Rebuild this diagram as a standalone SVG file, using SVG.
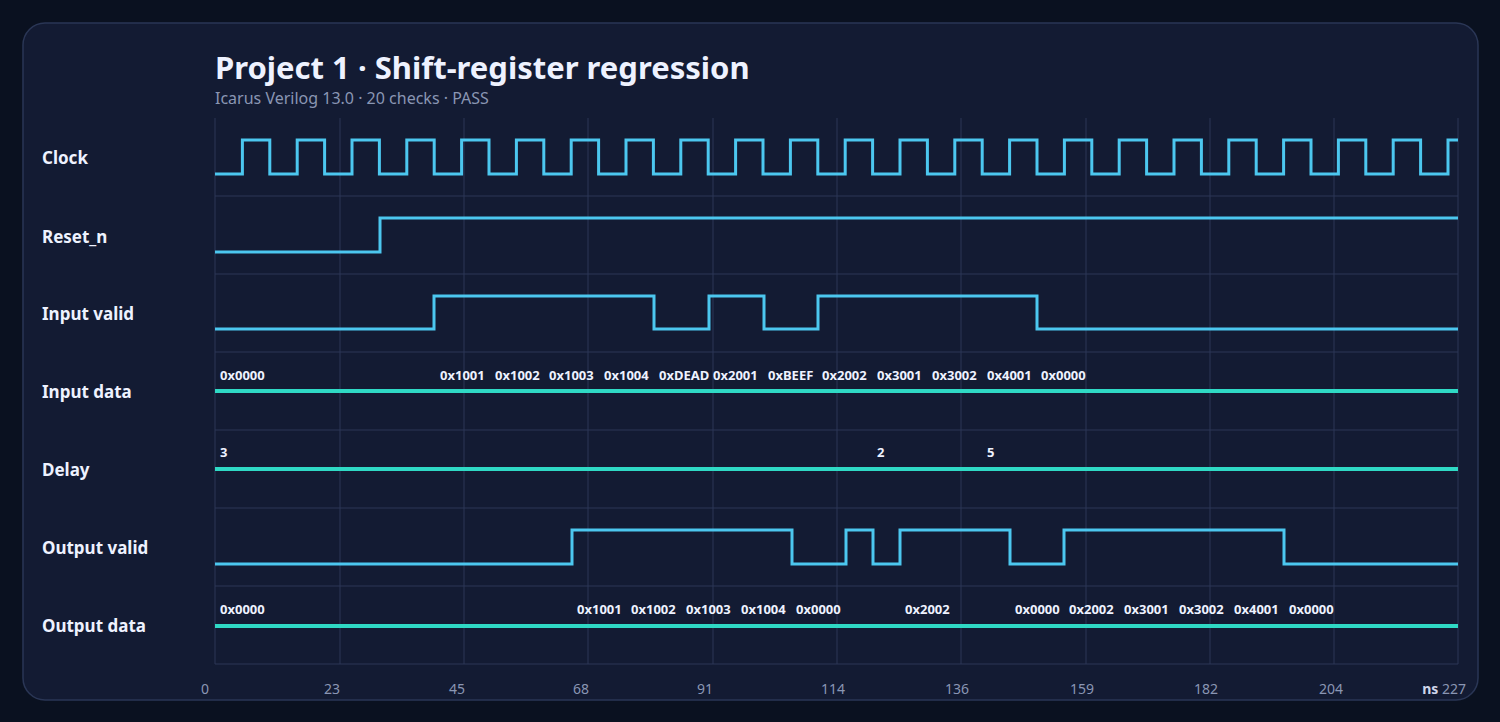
<svg xmlns="http://www.w3.org/2000/svg" width="1500" height="722" viewBox="0 0 1500 722">
<style>
.lbl{font-family:"Noto Sans","Open Sans",sans-serif;font-weight:700;font-size:17px;fill:#eef2ff}
.val{font-family:"Noto Sans","Open Sans",sans-serif;font-weight:700;font-size:13px;fill:#eef2ff}
.ax{font-family:"Noto Sans","Open Sans",sans-serif;font-size:14px;fill:#8a96b3;text-anchor:end}
.grid{stroke:#2c3656;stroke-width:1;fill:none}
.wave{stroke:#4cc7ef;stroke-width:3;fill:none;stroke-linejoin:miter}
.bus{stroke:#2fd9c5;stroke-width:4;fill:none}
</style>
<rect width="1500" height="722" fill="#0a1120"/>
<rect x="23" y="23" width="1455" height="677" rx="22" fill="#131b33" stroke="#2a3655" stroke-width="1.5"/>
<text x="215" y="79" font-family="Noto Sans,Open Sans,sans-serif" font-weight="700" font-size="31" fill="#eef2ff">Project 1 · Shift-register regression</text>
<text x="215" y="104" font-family="Noto Sans,Open Sans,sans-serif" font-size="16" fill="#8a96b3">Icarus Verilog 13.0 · 20 checks · PASS</text>
<g id="grid" class="grid">
<path d="M215 118V664M340 118V664M464 118V664M588 118V664M713 118V664M837 118V664M961 118V664M1086 118V664M1210 118V664M1334 118V664M1458 118V664"/>
<path d="M215 196H1458M215 274H1458M215 352H1458M215 430H1458M215 508H1458M215 586H1458M215 664H1458"/>
</g>
<g id="clock"><text class="lbl" x="42" y="164">Clock</text>
<path class="wave" d="M215 174H242.4V140H269.8V174H297.2V140H324.6V174H352V140H379.4V174H406.8V140H434.2V174H461.6V140H489V174H516.4V140H543.8V174H571.2V140H598.6V174H626V140H653.4V174H680.8V140H708.2V174H735.6V140H763V174H790.4V140H817.8V174H845.2V140H872.6V174H900V140H927.4V174H954.8V140H982.2V174H1009.6V140H1037V174H1064.4V140H1091.8V174H1119.2V140H1146.6V174H1174V140H1201.4V174H1228.8V140H1256.2V174H1283.6V140H1311V174H1338.4V140H1365.8V174H1393.2V140H1420.6V174H1448V140H1458"/></g>
<g id="reset"><text class="lbl" x="42" y="243">Reset_n</text>
<path class="wave" d="M215 252H380V218H1458"/></g>
<g id="in_valid"><text class="lbl" x="42" y="320">Input valid</text>
<path class="wave" d="M215 329H434V296H654V329H709V296H764V329H818V296H1037V329H1458"/></g>
<g id="in_data"><text class="lbl" x="42" y="398">Input data</text>
<path class="bus" d="M215 391H1458"/>
<text class="val" y="380"><tspan x="220">0x0000</tspan><tspan x="440">0x1001</tspan><tspan x="495">0x1002</tspan><tspan x="549">0x1003</tspan><tspan x="604">0x1004</tspan><tspan x="659">0xDEAD</tspan><tspan x="713">0x2001</tspan><tspan x="768">0xBEEF</tspan><tspan x="822">0x2002</tspan><tspan x="877">0x3001</tspan><tspan x="932">0x3002</tspan><tspan x="987">0x4001</tspan><tspan x="1041">0x0000</tspan></text></g>
<g id="delay"><text class="lbl" x="42" y="476">Delay</text>
<path class="bus" d="M215 469H1458"/>
<text class="val" y="457"><tspan x="220">3</tspan><tspan x="877">2</tspan><tspan x="987">5</tspan></text></g>
<g id="out_valid"><text class="lbl" x="42" y="554">Output valid</text>
<path class="wave" d="M215 564H572V530H792V564H846V530H873V564H900V530H1010V564H1064V530H1284V564H1458"/></g>
<g id="out_data"><text class="lbl" x="42" y="632">Output data</text>
<path class="bus" d="M215 626H1458"/>
<text class="val" y="614"><tspan x="220">0x0000</tspan><tspan x="577">0x1001</tspan><tspan x="631">0x1002</tspan><tspan x="686">0x1003</tspan><tspan x="741">0x1004</tspan><tspan x="796">0x0000</tspan><tspan x="905">0x2002</tspan><tspan x="1015">0x0000</tspan><tspan x="1069">0x2002</tspan><tspan x="1124">0x3001</tspan><tspan x="1179">0x3002</tspan><tspan x="1234">0x4001</tspan><tspan x="1289">0x0000</tspan></text></g>
<g id="axis">
<text class="ax" x="209" y="694">0</text><text class="ax" x="340" y="694">23</text><text class="ax" x="465" y="694">45</text><text class="ax" x="589" y="694">68</text><text class="ax" x="713" y="694">91</text><text class="ax" x="845" y="694">114</text><text class="ax" x="969" y="694">136</text><text class="ax" x="1094" y="694">159</text><text class="ax" x="1218" y="694">182</text><text class="ax" x="1343" y="694">204</text>
<text class="ax" x="1466" y="694"><tspan font-weight="700" fill="#cfd6ea">ns</tspan> 227</text>
</g>
</svg>
